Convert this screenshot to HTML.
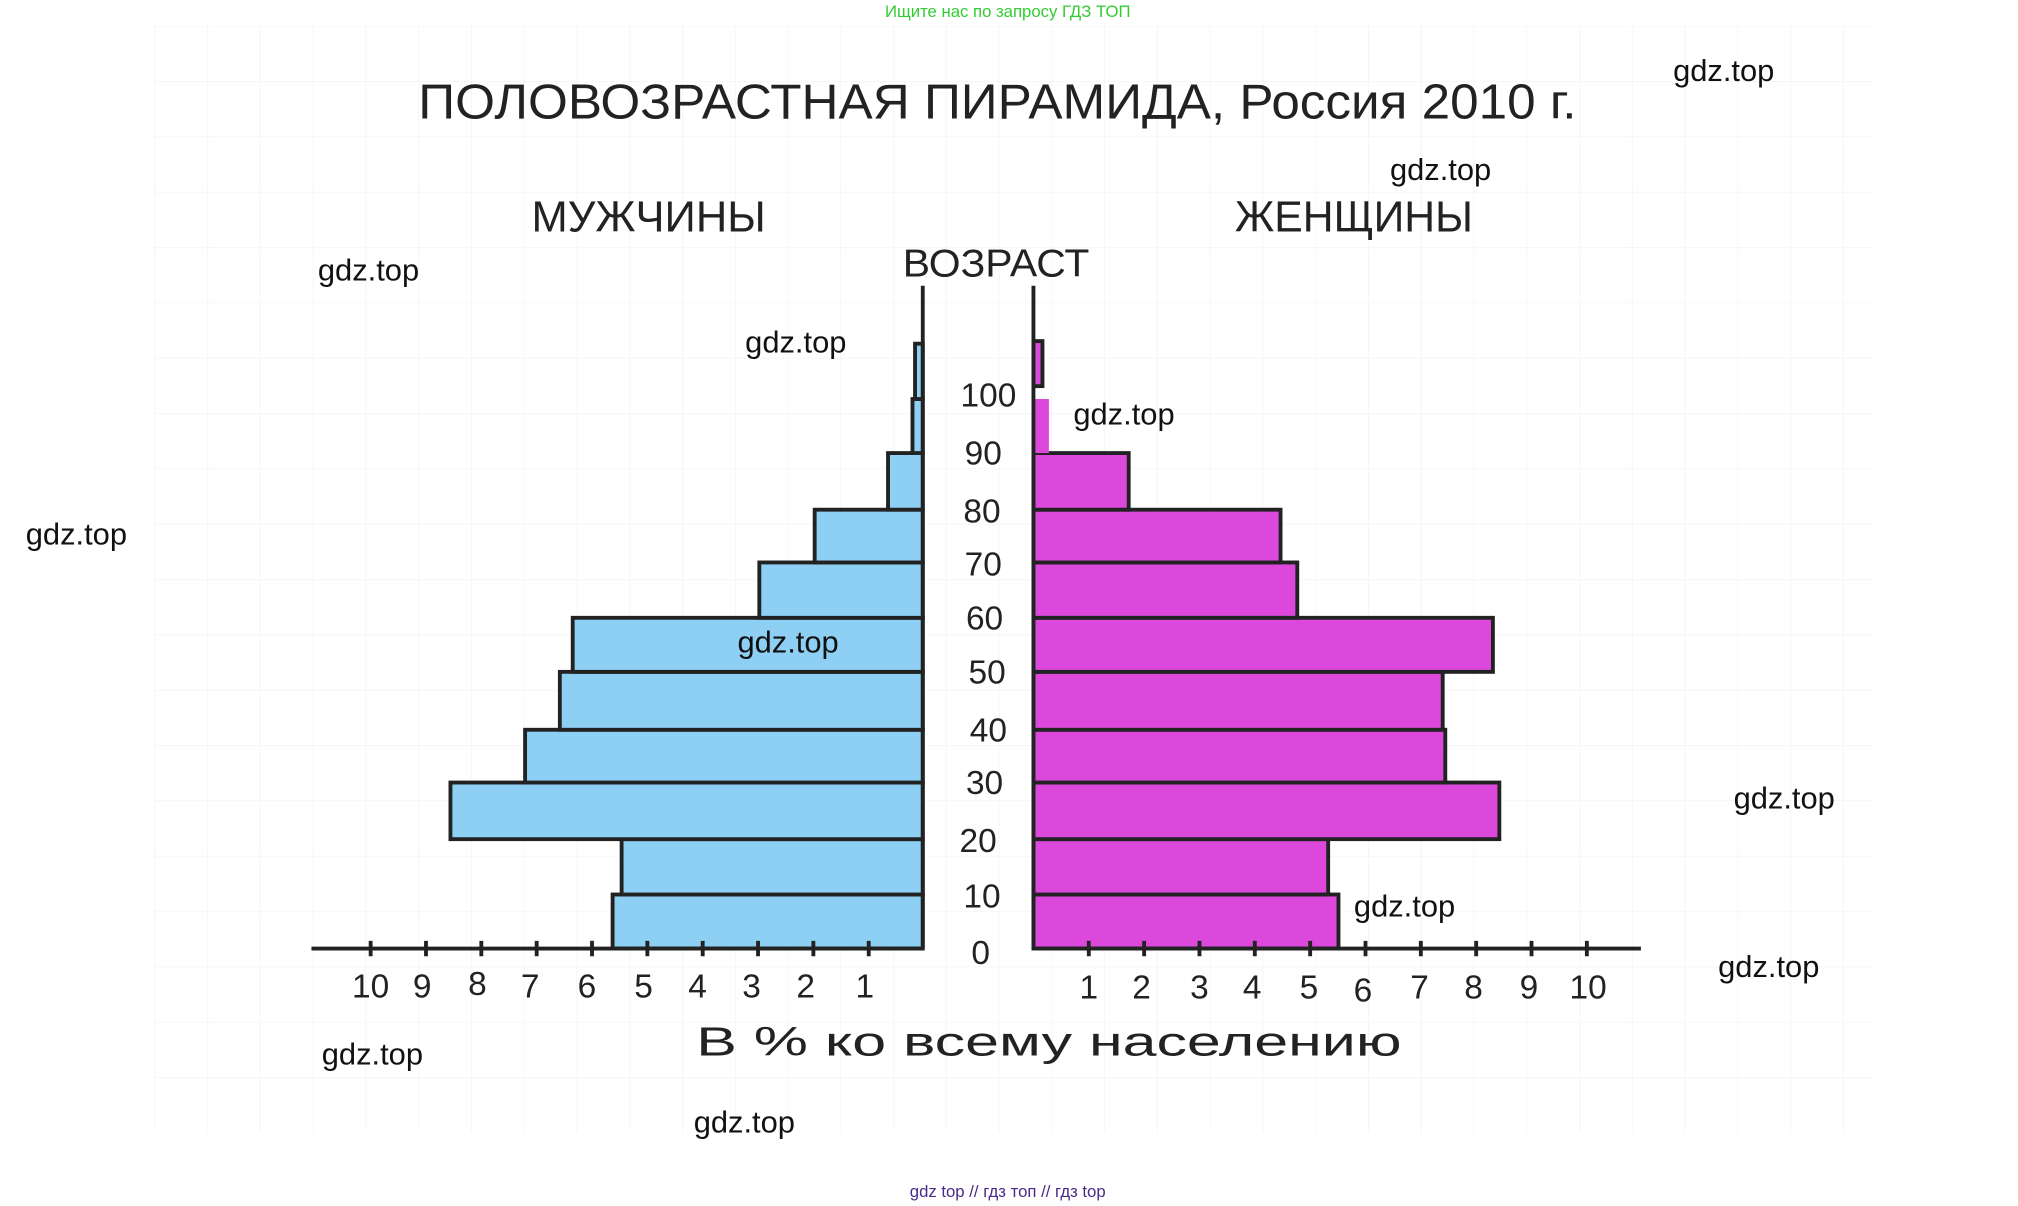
<!DOCTYPE html>
<html><head><meta charset="utf-8"><style>
html,body{margin:0;padding:0;background:#fff;}
svg{display:block}
text{font-family:"Liberation Sans","DejaVu Sans",sans-serif;}
</style></head><body>
<svg width="2018" height="1206" viewBox="0 0 1568 937" xmlns="http://www.w3.org/2000/svg">
<defs>
<pattern id="g" x="120" y="20" width="41" height="43" patternUnits="userSpaceOnUse">
<path d="M0 0H41M0 0V43" stroke="#f1f1f1" stroke-width="1" fill="none"/>
</pattern>
</defs>
<rect x="120" y="20" width="1335" height="860" fill="url(#g)"/>
<text x="783" y="13" font-size="13" fill="#33cc33" text-anchor="middle">Ищите нас по запросу ГДЗ ТОП</text>
<g fill="#222" font-family="'Liberation Sans Narrow','Liberation Sans',sans-serif">
<text x="775" y="92" font-size="38" text-anchor="middle" textLength="900" lengthAdjust="spacingAndGlyphs">ПОЛОВОЗРАСТНАЯ ПИРАМИДА, Россия 2010 г.</text>
<text x="504" y="180" font-size="34" text-anchor="middle" textLength="182" lengthAdjust="spacingAndGlyphs">МУЖЧИНЫ</text>
<text x="1052" y="180" font-size="34" text-anchor="middle" textLength="185" lengthAdjust="spacingAndGlyphs">ЖЕНЩИНЫ</text>
<text x="774" y="215" font-size="30" text-anchor="middle" textLength="145" lengthAdjust="spacingAndGlyphs">ВОЗРАСТ</text>
<text x="815" y="820" font-size="32" text-anchor="middle" textLength="548" lengthAdjust="spacingAndGlyphs">В % ко всему населению</text>
</g>
<g stroke="#222" stroke-width="3">
<!-- male bars -->
<rect x="476" y="695" width="241" height="42" fill="#8dd0f4"/>
<rect x="483" y="652" width="234" height="43" fill="#8dd0f4"/>
<rect x="350" y="608" width="367" height="44" fill="#8dd0f4"/>
<rect x="408" y="567" width="309" height="41" fill="#8dd0f4"/>
<rect x="435" y="522" width="282" height="45" fill="#8dd0f4"/>
<rect x="445" y="480" width="272" height="42" fill="#8dd0f4"/>
<rect x="590" y="437" width="127" height="43" fill="#8dd0f4"/>
<rect x="633" y="396" width="84" height="41" fill="#8dd0f4"/>
<rect x="690" y="352" width="27" height="44" fill="#8dd0f4"/>
<rect x="709" y="310" width="8" height="42" fill="#8dd0f4"/>
<rect x="711" y="267" width="6" height="43" fill="#8dd0f4"/>
<!-- female bars -->
<rect x="803" y="695" width="237" height="42" fill="#dc48dc"/>
<rect x="803" y="652" width="229" height="43" fill="#dc48dc"/>
<rect x="803" y="608" width="362" height="44" fill="#dc48dc"/>
<rect x="803" y="567" width="320" height="41" fill="#dc48dc"/>
<rect x="803" y="522" width="318" height="45" fill="#dc48dc"/>
<rect x="803" y="480" width="357" height="42" fill="#dc48dc"/>
<rect x="803" y="437" width="205" height="43" fill="#dc48dc"/>
<rect x="803" y="396" width="192" height="41" fill="#dc48dc"/>
<rect x="803" y="352" width="74" height="44" fill="#dc48dc"/>
<rect x="803" y="310" width="12" height="42" fill="#dc48dc" stroke="none"/>
<rect x="803" y="265" width="7" height="35" fill="#dc48dc"/>
<!-- axes -->
<path d="M717 222V737M803 222V737M242 737H717M803 737H1275" fill="none"/>
<path d="M288 731V743M331 731V743M374 731V743M417 731V743M460 731V743M503 731V743M546 731V743M589 731V743M632 731V743M675 731V743"/>
<path d="M846 731V743M889 731V743M932 731V743M975 731V743M1018 731V743M1061 731V743M1104 731V743M1147 731V743M1190 731V743M1233 731V743"/>
</g>
<g fill="#222" font-size="26" text-anchor="middle" font-family="'Liberation Sans Narrow','Liberation Sans',sans-serif">
<text x="288" y="775">10</text><text x="328" y="775">9</text><text x="371" y="773">8</text><text x="412" y="775">7</text><text x="456" y="775">6</text><text x="500" y="775">5</text><text x="542" y="775">4</text><text x="584" y="775">3</text><text x="626" y="775">2</text><text x="672" y="775">1</text>
<text x="846" y="776">1</text><text x="887" y="776">2</text><text x="932" y="776">3</text><text x="973" y="776">4</text><text x="1017" y="776">5</text><text x="1059" y="778">6</text><text x="1103" y="776">7</text><text x="1145" y="776">8</text><text x="1188" y="776">9</text><text x="1234" y="776">10</text>
<text x="762" y="749">0</text><text x="763" y="705">10</text><text x="760" y="662">20</text><text x="765" y="617">30</text><text x="768" y="576">40</text><text x="767" y="531">50</text><text x="765" y="489">60</text><text x="764" y="447">70</text><text x="763" y="406">80</text><text x="764" y="361">90</text><text x="768" y="316">100</text>
</g>
<g fill="#111" font-size="24">
<text x="1300" y="63">gdz.top</text>
<text x="1080" y="140">gdz.top</text>
<text x="247" y="218">gdz.top</text>
<text x="579" y="274">gdz.top</text>
<text x="834" y="330">gdz.top</text>
<text x="20" y="423">gdz.top</text>
<text x="573" y="507">gdz.top</text>
<text x="1347" y="628">gdz.top</text>
<text x="1052" y="712">gdz.top</text>
<text x="1335" y="759">gdz.top</text>
<text x="250" y="827">gdz.top</text>
<text x="539" y="880">gdz.top</text>
</g>
<text x="783" y="930" font-size="13" fill="#4a2a8a" text-anchor="middle">gdz top  //  гдз топ  //  гдз top</text>
</svg>
</body></html>
